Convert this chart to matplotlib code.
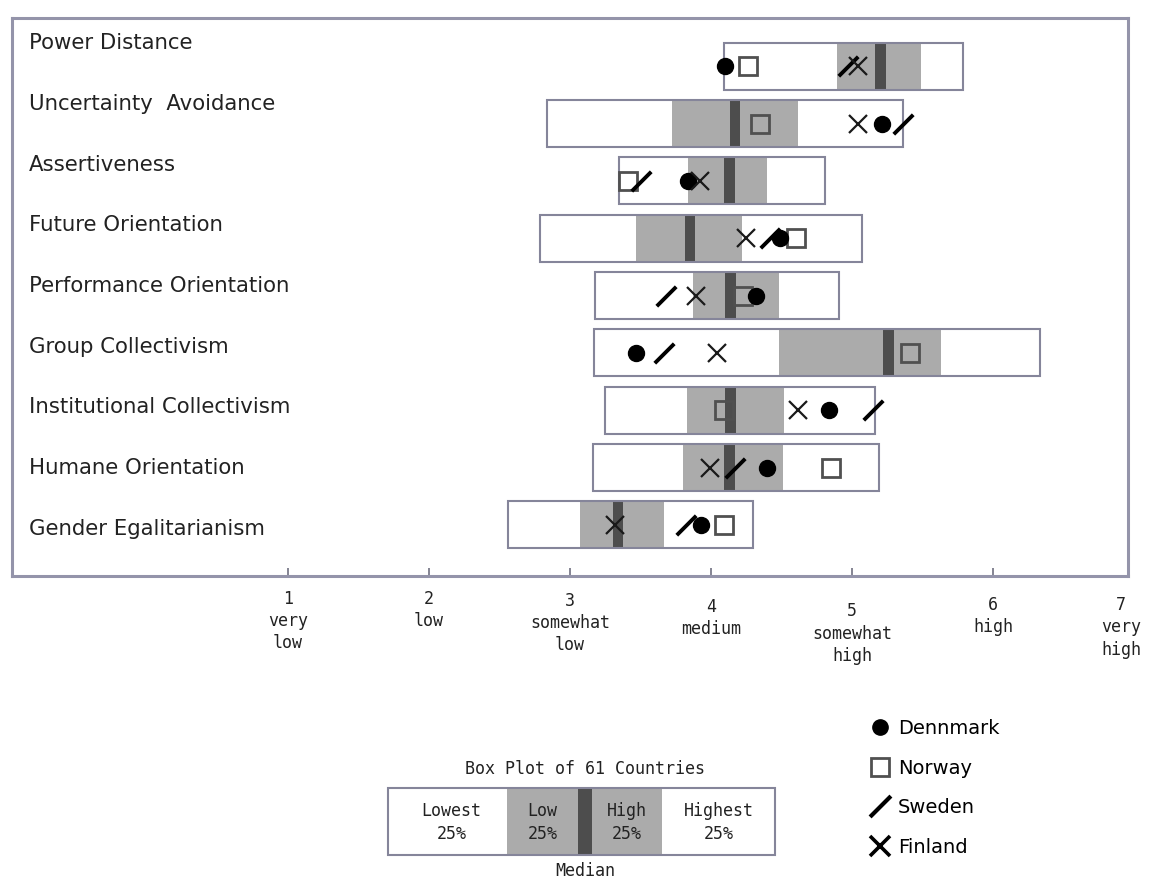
import numpy as np
import matplotlib
matplotlib.use('Agg')
import matplotlib.pyplot as plt
from matplotlib.path import Path
from matplotlib.lines import Line2D
from matplotlib.patches import Rectangle

# GLOBE society practices, box plot of 61 countries + nordic countries
dimensions = ['Power Distance', 'Uncertainty  Avoidance', 'Assertiveness',
              'Future Orientation', 'Performance Orientation', 'Group Collectivism',
              'Institutional Collectivism', 'Humane Orientation', 'Gender Egalitarianism']

lowest = [4.09, 2.84, 3.35, 2.79, 3.18, 3.17, 3.25, 3.16, 2.56]
q1 = [4.89, 3.72, 3.84, 3.47, 3.87, 4.48, 3.83, 3.80, 3.07]
median = [5.20, 4.17, 4.13, 3.85, 4.14, 5.26, 4.14, 4.13, 3.34]
q3 = [5.49, 4.62, 4.40, 4.22, 4.48, 5.63, 4.52, 4.51, 3.67]
highest = [5.79, 5.36, 4.81, 5.07, 4.91, 6.33, 5.16, 5.19, 4.30]

denmark = [4.10, 5.21, 3.84, 4.49, 4.32, 3.47, 4.84, 4.40, 3.93]
norway = [4.26, 4.35, 3.41, 4.60, 4.23, 5.41, 4.09, 4.85, 4.09]
sweden = [4.97, 5.36, 3.50, 4.42, 3.68, 3.67, 5.15, 4.17, 3.82]
finland = [5.04, 5.04, 3.92, 4.25, 3.89, 4.04, 4.62, 3.99, 3.32]

scale_ticks = [1, 2, 3, 4, 5, 6, 7]
scale_labels = ['1\nvery\nlow', '2\nlow', '3\nsomewhat\nlow', '4\nmedium',
                '5\nsomewhat\nhigh', '6\nhigh', '7\nvery\nhigh']

key_labels = ['Lowest\n25%', 'Low\n25%', 'High\n25%', 'Highest\n25%']
countries = ['Dennmark', 'Norway', 'Sweden', 'Finland']

GREY = '#ababab'
DARK = '#4d4d4d'
EDGE = '#85859a'
W, H = 1152, 881

fig = plt.figure(figsize=(W / 100, H / 100), dpi=100)
ax = fig.add_axes([12 / W, 1 - 576 / H, 1116 / W, 558 / H])

y = np.arange(len(dimensions))
bh = 0.82
lowest = np.array(lowest); highest = np.array(highest)
q1 = np.array(q1); q3 = np.array(q3); median = np.array(median)

# boxes
ax.barh(y, highest - lowest, left=lowest, height=bh, color='white', edgecolor='none', zorder=1)
ax.barh(y, q3 - q1, left=q1, height=bh, color=GREY, edgecolor='none', zorder=2)
ax.barh(y, 0.075, left=median - 0.0375, height=bh, color=DARK, edgecolor='none', zorder=3)
ax.barh(y, highest - lowest, left=lowest, height=bh, color='none', edgecolor=EDGE,
        linewidth=1.5, zorder=4)

slash = Path([(-0.5, -0.5), (0.5, 0.5)], [Path.MOVETO, Path.LINETO])

ax.plot(norway, y, linestyle='none', marker='s', ms=12.5, mfc='none', mec='#505050', mew=2, zorder=5)
ax.plot(denmark, y, linestyle='none', marker='o', ms=11.5, color='black', zorder=6)
ax.plot(sweden, y, linestyle='none', marker=slash, ms=14, mec='black', mew=2.8, zorder=6)
ax.plot(finland, y, linestyle='none', marker='x', ms=13, mec='#1a1a1a', mew=1.6, zorder=6)

ax.set_xlim(-0.957, 6.957)
ax.set_ylim(8.89, -0.84)
ax.set_yticks([])
ax.set_xticks(scale_ticks[:-1])
ax.set_xticklabels([])
ax.tick_params(axis='x', direction='in', length=6, width=1.2, color='#707080')
for s in ax.spines.values():
    s.set_color('#9494aa')
    s.set_linewidth(2.2)

# row labels (slightly wider spacing than the boxes in the original)
for i, name in enumerate(dimensions):
    ly = (43 + i * 60.75 - 66) / 57.4
    ax.text(0.015, ly, name, transform=ax.get_yaxis_transform(), fontsize=15.3,
            color='#222222', ha='left', va='center')

# scale labels under the axis
label_offsets = [10, 10, 11.5, 16, 19, 14.5, 14.5]
for v, lab, off in zip(scale_ticks, scale_labels, label_offsets):
    ax.annotate(lab, xy=(min(v, 6.91), 0), xycoords=('data', 'axes fraction'),
                xytext=(0, -off), textcoords='offset points', ha='center', va='top',
                fontsize=12, family='DejaVu Sans Mono', linespacing=1.3, color='#222222',
                annotation_clip=False)

# key box
kax = fig.add_axes([388 / W, 1 - 855 / H, 387 / W, 67 / H])
kax.set_xlim(0, 387)
kax.set_ylim(0, 1)
kax.axis('off')
bounds = [0, 119, 190, 204, 274, 387]
fills = ['white', GREY, DARK, GREY, 'white']
for a, b, c in zip(bounds[:-1], bounds[1:], fills):
    kax.add_patch(Rectangle((a, 0), b - a, 1, color=c, lw=0))
kax.add_patch(Rectangle((0, 0), 387, 1, facecolor='none', edgecolor=EDGE, lw=1.5, clip_on=False))
centers = [(bounds[0] + bounds[1]) / 2 + 4, (bounds[1] + bounds[2]) / 2,
           (bounds[3] + bounds[4]) / 2, (bounds[4] + bounds[5]) / 2]
for cx, lab in zip(centers, key_labels):
    kax.text(cx, 0.49, lab, ha='center', va='center', fontsize=12,
             family='DejaVu Sans Mono', linespacing=1.35, color='#222222')

fig.text(585 / W, 1 - 769 / H, 'Box Plot of 61 Countries', ha='center', va='center',
         fontsize=12, family='DejaVu Sans Mono', color='#222222')
fig.text(585 / W, 1 - 871 / H, 'Median', ha='center', va='center',
         fontsize=12, family='DejaVu Sans Mono', color='#222222')

# country legend
handles = [Line2D([], [], linestyle='none', marker='o', ms=11, color='black'),
           Line2D([], [], linestyle='none', marker='s', ms=12.5, mfc='none', mec='#505050', mew=2),
           Line2D([], [], linestyle='none', marker=slash, ms=15, mec='black', mew=3),
           Line2D([], [], linestyle='none', marker='x', ms=14, mec='black', mew=2.6)]
fig.legend(handles, countries, loc='upper left', bbox_to_anchor=(870 / W, 1 - 719 / H),
           frameon=False, fontsize=14, handlelength=1.0, handletextpad=0.45,
           borderpad=0, borderaxespad=0, labelspacing=1.06, numpoints=1)

plt.savefig('out.png', dpi=100)
